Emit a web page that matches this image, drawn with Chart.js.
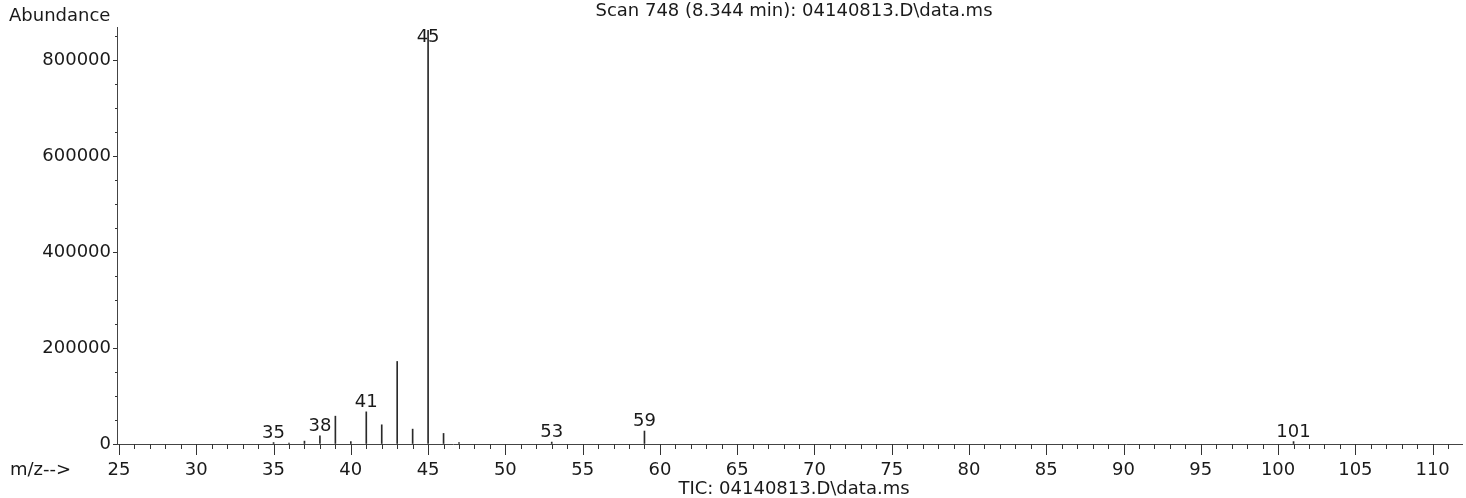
<!DOCTYPE html>
<html>
<head>
<meta charset="utf-8">
<script src="https://cdn.jsdelivr.net/npm/chart.js@4/dist/chart.umd.min.js"></script>
<style>
  body { margin: 0; background: #fff; }
  #wrap { width: 1466px; height: 498px; }
</style>
</head>
<body>
<div id="wrap"><canvas id="msChart" width="1466" height="498"></canvas></div>
<script>
// m/z values and their abundance
const mzValues   = [35,   36,   37,   38,    39,    40,   41,    42,    43,     44,    45,     46,    47,   53,   59,    101];
const abundances = [3000, 2000, 6000, 17000, 58000, 5000, 67000, 40000, 172000, 31000, 862000, 22000, 3000, 4000, 27000, 5000];
// peaks that carry a number above them
const peakLabels = [35, 38, 41, 45, 53, 59, 101];
// axis ranges / tick labels
const xMin = 24.87, xMax = 111.9;
const yMax = 869000;
const xTickValues = [25, 30, 35, 40, 45, 50, 55, 60, 65, 70, 75, 80, 85, 90, 95, 100, 105, 110];
const yTickValues = [0, 200000, 400000, 600000, 800000];

const titleText = 'Scan 748 (8.344 min): 04140813.D\\data.ms';
const footText = 'TIC: 04140813.D\\data.ms';

const FONT = '"DejaVu Sans", sans-serif';
const INK = '#1a1a1a';

const extrasPlugin = {
    id: 'extras',
    afterDraw(chart) {
        const ctx = chart.ctx;
        const xs = chart.scales.x, ys = chart.scales.y;
        const area = chart.chartArea;
        ctx.save();
        ctx.strokeStyle = '#333';
        ctx.lineWidth = 1;
        // x ticks: minor every unit, longer every 5
        for (let v = 25; v <= 111; v++) {
            const px = Math.round(xs.getPixelForValue(v)) + 0.5;
            const len = v % 5 === 0 ? 11 : 5;
            ctx.beginPath();
            ctx.moveTo(px, area.bottom);
            ctx.lineTo(px, area.bottom + len);
            ctx.stroke();
        }
        // y ticks
        for (let v = 0; v <= 850000; v += 50000) {
            const py = Math.round(ys.getPixelForValue(v)) + 0.5;
            const len = v % 200000 === 0 ? 4 : 2;
            ctx.beginPath();
            ctx.moveTo(area.left - len, py);
            ctx.lineTo(area.left, py);
            ctx.stroke();
        }
        // peak labels
        ctx.fillStyle = INK;
        ctx.font = '18px ' + FONT;
        ctx.textAlign = 'center';
        ctx.textBaseline = 'alphabetic';
        peakLabels.forEach(function (m) {
            const i = mzValues.indexOf(m);
            const px = xs.getPixelForValue(m);
            const py = ys.getPixelForValue(abundances[i]);
            const by = Math.max(py - 5, area.top + 15);
            ctx.fillText(String(m), px, by);
        });
        // texts round the plot
        ctx.textAlign = 'left';
        ctx.fillText('Abundance', 9, 21);
        ctx.fillText('m/z-->', 10, 475);
        ctx.textAlign = 'center';
        ctx.fillText(titleText, 794, 16);
        ctx.fillText(footText, 794, 494);
        ctx.restore();
    }
};

const ctx = document.getElementById('msChart').getContext('2d');
const msChart = new Chart(ctx, {
    type: 'bar',
    data: {
        datasets: [{
            data: mzValues.map((m, i) => ({ x: m, y: abundances[i] })),
            backgroundColor: '#2a2a2a',
            borderWidth: 0,
            barThickness: 1
        }]
    },
    options: {
        responsive: false,
        animation: false,
        layout: { padding: { top: 27, right: 4, bottom: 0, left: 0 } },
        plugins: {
            legend: { display: false },
            tooltip: { enabled: false }
        },
        scales: {
            x: {
                type: 'linear',
                min: xMin,
                max: xMax,
                offset: false,
                grid: { display: true, drawOnChartArea: false, drawTicks: false, offset: false },
                border: { display: true, color: '#444', width: 1 },
                afterBuildTicks(scale) { scale.ticks = xTickValues.map(v => ({ value: v })); },
                ticks: {
                    padding: 16,
                    color: INK,
                    maxRotation: 0,
                    autoSkip: false,
                    font: { family: FONT, size: 18 },
                    callback: v => String(v)
                },
                afterFit(scale) { scale.height = 54; }
            },
            y: {
                min: 0,
                max: yMax,
                grid: { display: true, drawOnChartArea: false, drawTicks: false },
                border: { display: true, color: '#444', width: 1 },
                afterBuildTicks(scale) { scale.ticks = yTickValues.map(v => ({ value: v })); },
                ticks: {
                    padding: 6,
                    color: INK,
                    autoSkip: false,
                    font: { family: FONT, size: 18 },
                    callback: v => String(v)
                },
                afterFit(scale) { scale.width = 117; }
            }
        }
    },
    plugins: [extrasPlugin]
});
</script>
</body>
</html>
